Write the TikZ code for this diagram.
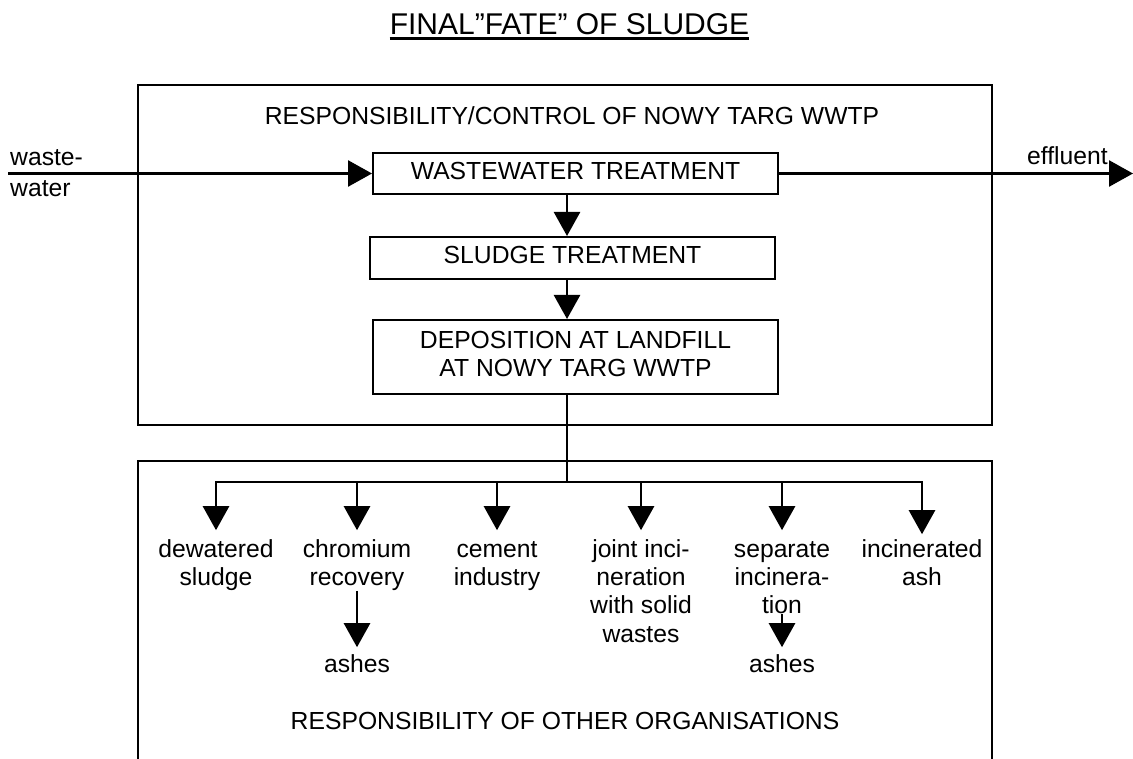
\documentclass[tikz,border=0pt]{standalone}
\usepackage{fontspec}
\setmainfont{Liberation Sans}
\usetikzlibrary{arrows.meta}
\newcommand{\lbfont}{\fontsize{24.7}{28.3}\selectfont}
\begin{document}
\begin{tikzpicture}[x=1pt,y=-1pt,
  box/.style={draw,line width=2pt,inner sep=0pt,minimum width=405pt,font=\lbfont,align=center,text depth=6pt},
  lbl/.style={inner sep=0pt,font=\lbfont,align=center,anchor=north},
  conn/.style={line width=2.6pt},
  tipA/.tip={Triangle[length=24pt,width=26pt]},
  arr/.style={conn,-tipA},
  frame/.style={line width=2pt}]
\useasboundingbox (0,0) rectangle (1133,759);

% title
\node[inner sep=0pt,anchor=base,font=\fontsize{30}{36}\selectfont] (title) at (569.5,35) {FINAL”FATE” OF SLUDGE};
\draw[line width=2.5pt] ([yshift=-3.5pt]title.base west) -- ([yshift=-3.5pt]title.base east);

% frames
\draw[frame] (138,85) rectangle (992,425);
\draw[frame] (138,759) -- (138,461) -- (992,461) -- (992,759);
\node[lbl,anchor=base] (ctrl) at (572,125) {RESPONSIBILITY/CONTROL OF NOWY TARG WWTP};
\node[lbl,anchor=base] (oth) at (565,729) {RESPONSIBILITY OF OTHER ORGANISATIONS};

% process boxes
\node[box,minimum height=41pt] (ww) at (575.5,173.5) {WASTEWATER TREATMENT};
\node[box,minimum height=42pt] (sl) at (572.5,258) {SLUDGE TREATMENT};
\node[box,minimum height=74pt] (dep) at (575.5,357) {DEPOSITION AT LANDFILL\\AT NOWY TARG WWTP};

\coordinate (tx) at (567,0);
\coordinate (win) at (8,173.5);
\coordinate (eout) at (1133,173.5);

\node[anchor=north west,inner sep=0pt,font=\lbfont,align=left] (wl) at (10,145.2) {\strut waste-\\[3pt]water};
\node[anchor=base west,inner sep=0pt,font=\lbfont] (ef) at (1027,165) {effluent};

\draw[arr] (win) -- (ww.west);
\draw[arr] (ww.east) -- (eout);
\draw[arr] (ww.south -| tx) -- (sl.north -| tx);
\draw[arr] (sl.south -| tx) -- (dep.north -| tx);

% branch
\coordinate (j) at (567,482);
\coordinate (b1) at (216,482);
\coordinate (b2) at (357,482);
\coordinate (b3) at (497,482);
\coordinate (b4) at (641,482);
\coordinate (b5) at (782,482);
\coordinate (b6) at (922,482);
\draw[conn] (dep.south -| tx) -- (j);

\node[lbl] (dew) at (216,537.2) {\strut dewatered\\sludge};
\node[lbl] (chr) at (357,537.2) {\strut chromium\\recovery};
\node[lbl] (cem) at (497,537.2) {\strut cement\\industry};
\node[lbl] (joi) at (641,537.2) {\strut joint inci-\\neration\\with solid\\wastes};
\node[lbl] (sep) at (782,537.2) {\strut separate\\incinera-\\tion};
\node[lbl] (inc) at (922,537.2) {\strut incinerated\\ash};
\node[lbl] (as1) at (357,652.2) {\strut ashes};
\node[lbl] (as2) at (782,652.2) {\strut ashes};

\draw[conn,tipA-tipA] ([yshift=7pt]dew.north) -- (b1) -- (b6) -- ([yshift=3pt]inc.north);
\draw[arr] (b2) -- ([yshift=7pt]chr.north);
\draw[arr] (b3) -- ([yshift=7pt]cem.north);
\draw[arr] (b4) -- ([yshift=7pt]joi.north);
\draw[arr] (b5) -- ([yshift=7pt]sep.north);

\draw[arr] (chr.south) -- ([yshift=5pt]as1.north);
\draw[arr] (sep.south) -- ([yshift=5pt]as2.north);
\end{tikzpicture}
\end{document}
